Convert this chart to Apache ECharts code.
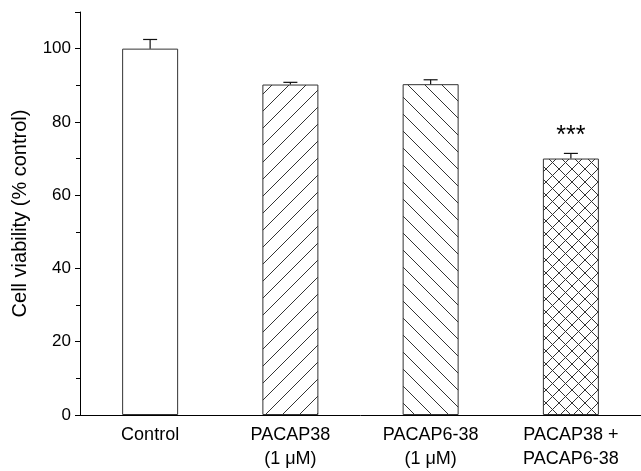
<!DOCTYPE html>
<html lang="en">
<head>
    <meta charset="UTF-8">
    <title>Cell viability</title>
    <script src="https://cdn.jsdelivr.net/npm/echarts@6/dist/echarts.min.js"></script>
    <style>
        html, body { margin: 0; padding: 0; background: #fff; }
    </style>
</head>
<body>
    <div id="main" style="width: 641px;height:471px;"></div>
<script type="text/javascript">

    // data
    var categories = ['Control', 'PACAP38\n(1 \u03bcM)', 'PACAP6-38\n(1 \u03bcM)', 'PACAP38 +\nPACAP6-38'];
    var viability = [100, 90.2, 90.3, 70.0];
    var sem = [2.5, 0.6, 1.2, 1.4];
    var stars = ['', '', '', '***'];
    var yTicks = [0, 20, 40, 60, 80, 100];

    // hatch fills
    function makeHatch(size, forward, backward) {
        var c = document.createElement('canvas');
        c.width = size;
        c.height = size;
        var ctx = c.getContext('2d');
        ctx.fillStyle = '#fff';
        ctx.fillRect(0, 0, size, size);
        ctx.strokeStyle = '#333';
        ctx.lineWidth = 1;
        ctx.beginPath();
        if (forward) {
            ctx.moveTo(-2, size + 2); ctx.lineTo(size + 2, -2);
            ctx.moveTo(-2, 2); ctx.lineTo(2, -2);
            ctx.moveTo(size - 2, size + 2); ctx.lineTo(size + 2, size - 2);
        }
        if (backward) {
            ctx.moveTo(-2, -2); ctx.lineTo(size + 2, size + 2);
            ctx.moveTo(size - 2, -2); ctx.lineTo(size + 2, 2);
            ctx.moveTo(-2, size - 2); ctx.lineTo(2, size + 2);
        }
        ctx.stroke();
        return { image: c, repeat: 'repeat' };
    }

    var fills = ['#fff', makeHatch(17, true, false), makeHatch(17, false, true), makeHatch(13, true, true)];

    var myChart = echarts.init(document.getElementById('main'));

    var option = {
        animation: false,
        textStyle: { fontFamily: 'Liberation Sans, Arial, sans-serif' },
        grid: { left: 80, right: 0, top: 12, bottom: 52 },
        xAxis: {
            type: 'category',
            data: categories,
            axisLine: { lineStyle: { color: '#000', width: 1 } },
            axisTick: { show: false },
            axisLabel: {
                color: '#000',
                fontSize: 18,
                lineHeight: 24,
                margin: 8
            }
        },
        yAxis: {
            type: 'value',
            min: 0,
            max: 110,
            interval: 20,
            name: 'Cell viability (% control)',
            nameLocation: 'middle',
            nameGap: 50,
            nameTextStyle: { color: '#000', fontSize: 20 },
            axisLine: { show: true, lineStyle: { color: '#000', width: 1 } },
            axisTick: { show: true, inside: false, length: 5, lineStyle: { color: '#000' } },
            minorTick: { show: true, splitNumber: 2, length: 4, lineStyle: { color: '#000' } },
            splitLine: { show: false },
            axisLabel: {
                color: '#000',
                fontSize: 17,
                margin: 9,
                formatter: function (v) { return yTicks.indexOf(v) >= 0 ? String(v) : ''; }
            }
        },
        series: [
            {
                type: 'bar',
                barWidth: 56,
                data: viability.map(function (v, i) {
                    return {
                        value: v,
                        itemStyle: { color: fills[i], borderColor: '#333', borderWidth: 1 },
                        label: {
                            show: stars[i] !== '',
                            position: 'top',
                            distance: 10,
                            formatter: stars[i],
                            fontSize: 25,
                            color: '#000'
                        }
                    };
                })
            },
            {
                type: 'custom',
                data: viability.map(function (v, i) { return [i, v, sem[i]]; }),
                renderItem: function (params, api) {
                    var base = api.coord([api.value(0), api.value(1)]);
                    var top = api.coord([api.value(0), api.value(1) + api.value(2)]);
                    var x = base[0], half = 7;
                    return {
                        type: 'group',
                        children: [
                            { type: 'line', shape: { x1: x, y1: base[1], x2: x, y2: top[1] }, style: { stroke: '#111', lineWidth: 1.2 } },
                            { type: 'line', shape: { x1: x - half, y1: top[1], x2: x + half, y2: top[1] }, style: { stroke: '#111', lineWidth: 1.2 } }
                        ]
                    };
                },
                z: 5
            }
        ]
    };

    myChart.setOption(option);

</script>
</body>
</html>
